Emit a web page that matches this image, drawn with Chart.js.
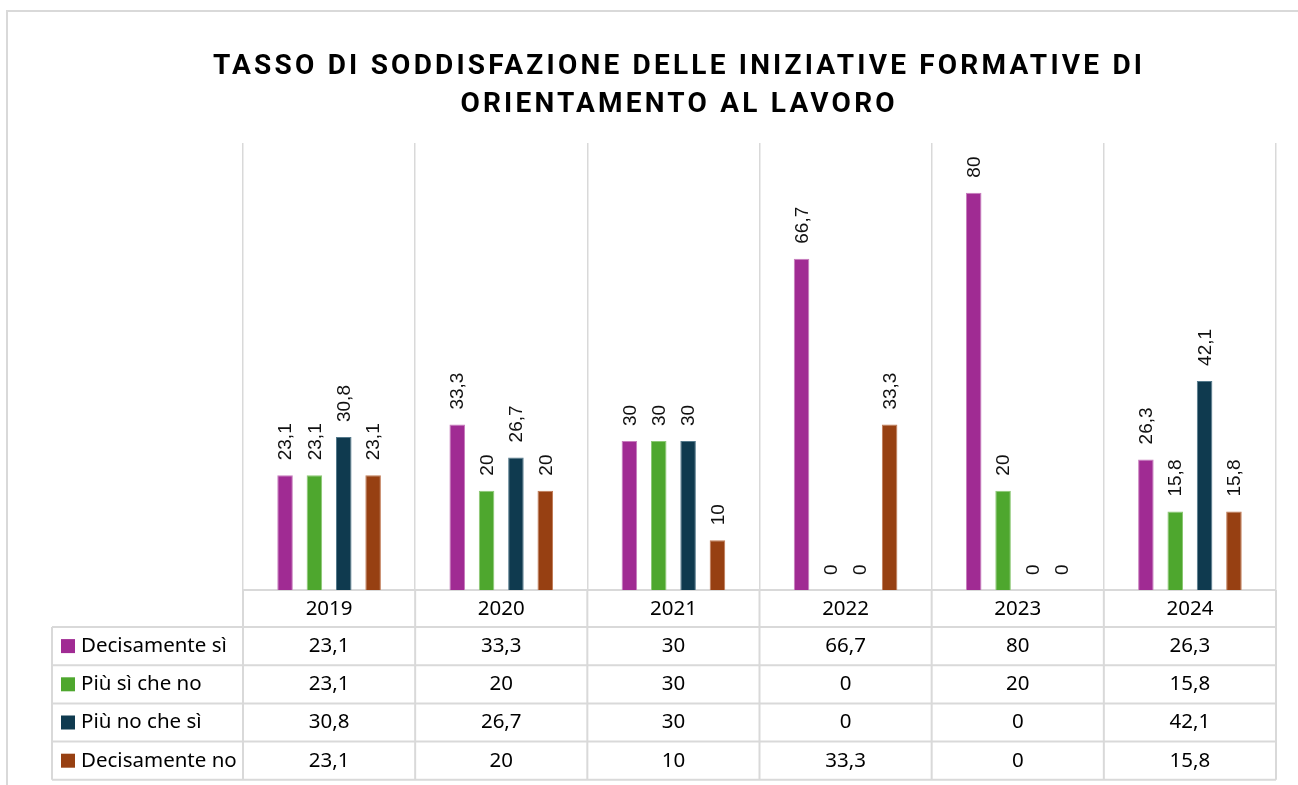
<!DOCTYPE html>
<html lang="it">
<head>
<meta charset="utf-8">
<title>Tasso di soddisfazione</title>
<script src="https://cdn.jsdelivr.net/npm/chart.js@4.4.1/dist/chart.umd.min.js"></script>
<style>
  html, body { margin: 0; padding: 0; background: #fff; }
  canvas { display: block; }
</style>
</head>
<body>
<canvas id="grafico" width="1298" height="785"></canvas>
<script>
// ======================= DATI =======================
const anni = ["2019", "2020", "2021", "2022", "2023", "2024"];
const decisamenteSi = [23.1, 33.3, 30, 66.7, 80, 26.3];
const piuSiCheNo = [23.1, 20, 30, 0, 20, 15.8];
const piuNoCheSi = [30.8, 26.7, 30, 0, 0, 42.1];
const decisamenteNo = [23.1, 20, 10, 33.3, 0, 15.8];
const nomiSerie = ["Decisamente sì", "Più sì che no", "Più no che sì", "Decisamente no"];
const titolo = ["TASSO DI SODDISFAZIONE DELLE INIZIATIVE FORMATIVE DI", "ORIENTAMENTO AL LAVORO"];
const yMax = 90;

const colori = ["#A02B93", "#4EA72E", "#0F3A4F", "#974012"];
const bordi = ["#c77dbd", "#8cc874", "#557a8c", "#c07a55"];
const LINEA = "#d9d9d9";
const fontTabella = '20.5px "Noto Sans", sans-serif';

function formatta(v) {
  return String(v).replace(".", ",");
}

// ======================= PLUGIN =======================
const sfondo = {
  id: "sfondo",
  beforeDraw(chart) {
    const ctx = chart.ctx;
    ctx.save();
    ctx.fillStyle = "#fff";
    ctx.fillRect(0, 0, chart.width, chart.height);
    ctx.strokeStyle = LINEA;
    ctx.lineWidth = 2;
    ctx.strokeRect(7, 11, 1360, 800);
    ctx.restore();
  }
};

// titolo spaziato: la prima riga occupa circa 929px come in Excel
const titoloSpaziato = {
  id: "titoloSpaziato",
  afterDraw(chart) {
    const ctx = chart.ctx;
    ctx.save();
    ctx.font = 'bold 28px Roboto, "Liberation Sans", sans-serif';
    ctx.fillStyle = "#000";
    ctx.textAlign = "left";
    ctx.textBaseline = "alphabetic";
    const larghezza = ctx.measureText(titolo[0]).width;
    const spazio = (929 - larghezza) / (titolo[0].length - 1);
    ctx.letterSpacing = spazio + "px";
    titolo.forEach((riga, i) => {
      const w = ctx.measureText(riga).width - spazio;
      ctx.fillText(riga, 677.5 - w / 2, 74 + i * 38);
    });
    ctx.restore();
  }
};

const etichetteBarre = {
  id: "etichetteBarre",
  afterDatasetsDraw(chart) {
    const ctx = chart.ctx;
    ctx.save();
    ctx.font = '19px "Liberation Sans", Arial, sans-serif';
    ctx.fillStyle = "#111";
    ctx.textAlign = "left";
    ctx.textBaseline = "middle";
    chart.data.datasets.forEach((ds, i) => {
      const meta = chart.getDatasetMeta(i);
      meta.data.forEach((barra, j) => {
        ctx.save();
        ctx.translate(barra.x + 1, barra.y - 15);
        ctx.rotate(-Math.PI / 2);
        ctx.fillText(formatta(ds.data[j]), 0, 0);
        ctx.restore();
      });
    });
    ctx.restore();
  }
};

// tabella dati sotto il grafico (stile Excel)
const tabellaDati = {
  id: "tabellaDati",
  afterDraw(chart) {
    const ctx = chart.ctx;
    const area = chart.chartArea;
    const scalaX = chart.scales.x;
    const n = anni.length;
    const larg = (area.right - area.left) / n;
    const sinistra = 52;
    const alto = area.bottom;
    const righe = [alto + 37];
    for (let r = 0; r < nomiSerie.length; r++) righe.push(righe[r] + 38.2);
    const basso = righe[righe.length - 1];

    ctx.save();
    ctx.strokeStyle = LINEA;
    ctx.lineWidth = 2;
    ctx.beginPath();
    for (let i = 0; i <= n; i++) {
      const x = area.left + i * larg;
      ctx.moveTo(x, alto);
      ctx.lineTo(x, basso);
    }
    righe.forEach(y => {
      ctx.moveTo(sinistra, y);
      ctx.lineTo(area.right, y);
    });
    ctx.moveTo(sinistra, righe[0]);
    ctx.lineTo(sinistra, basso);
    ctx.stroke();

    const serie = chart.data.datasets;
    ctx.font = fontTabella;
    ctx.fillStyle = "#000";
    ctx.textBaseline = "middle";
    serie.forEach((ds, r) => {
      const yc = (righe[r] + righe[r + 1]) / 2;
      ctx.fillStyle = colori[r];
      ctx.fillRect(61, yc - 7, 14, 14);
      ctx.fillStyle = "#000";
      ctx.textAlign = "left";
      ctx.fillText(ds.label, 81, yc);
      ctx.textAlign = "center";
      ds.data.forEach((v, j) => {
        ctx.fillText(formatta(v), scalaX.getPixelForTick(j), yc);
      });
    });
    ctx.restore();
  }
};

// ======================= GRAFICO =======================
const serieValori = [decisamenteSi, piuSiCheNo, piuNoCheSi, decisamenteNo];

new Chart(document.getElementById("grafico"), {
  type: "bar",
  data: {
    labels: anni,
    datasets: serieValori.map((valori, i) => ({
      label: nomiSerie[i],
      data: valori,
      backgroundColor: colori[i],
      borderColor: bordi[i],
      borderWidth: c => (c.raw ? 1 : 0),
      categoryPercentage: 0.682,
      barPercentage: 0.53
    }))
  },
  options: {
    responsive: false,
    animation: false,
    layout: { padding: { left: 243, right: 22, top: 143, bottom: 0 } },
    plugins: {
      legend: { display: false },
      tooltip: { enabled: false },
      title: { display: false }
    },
    scales: {
      x: {
        afterFit: s => { s.height = 195; },
        grid: { color: LINEA, lineWidth: 1.5, drawTicks: false, offset: true },
        border: { color: LINEA, width: 2 },
        ticks: { color: "#000", padding: 7, font: { family: '"Noto Sans", sans-serif', size: 20.5 } }
      },
      y: {
        display: false,
        min: 0,
        max: yMax
      }
    }
  },
  plugins: [sfondo, etichetteBarre, tabellaDati, titoloSpaziato]
});
</script>
</body>
</html>
